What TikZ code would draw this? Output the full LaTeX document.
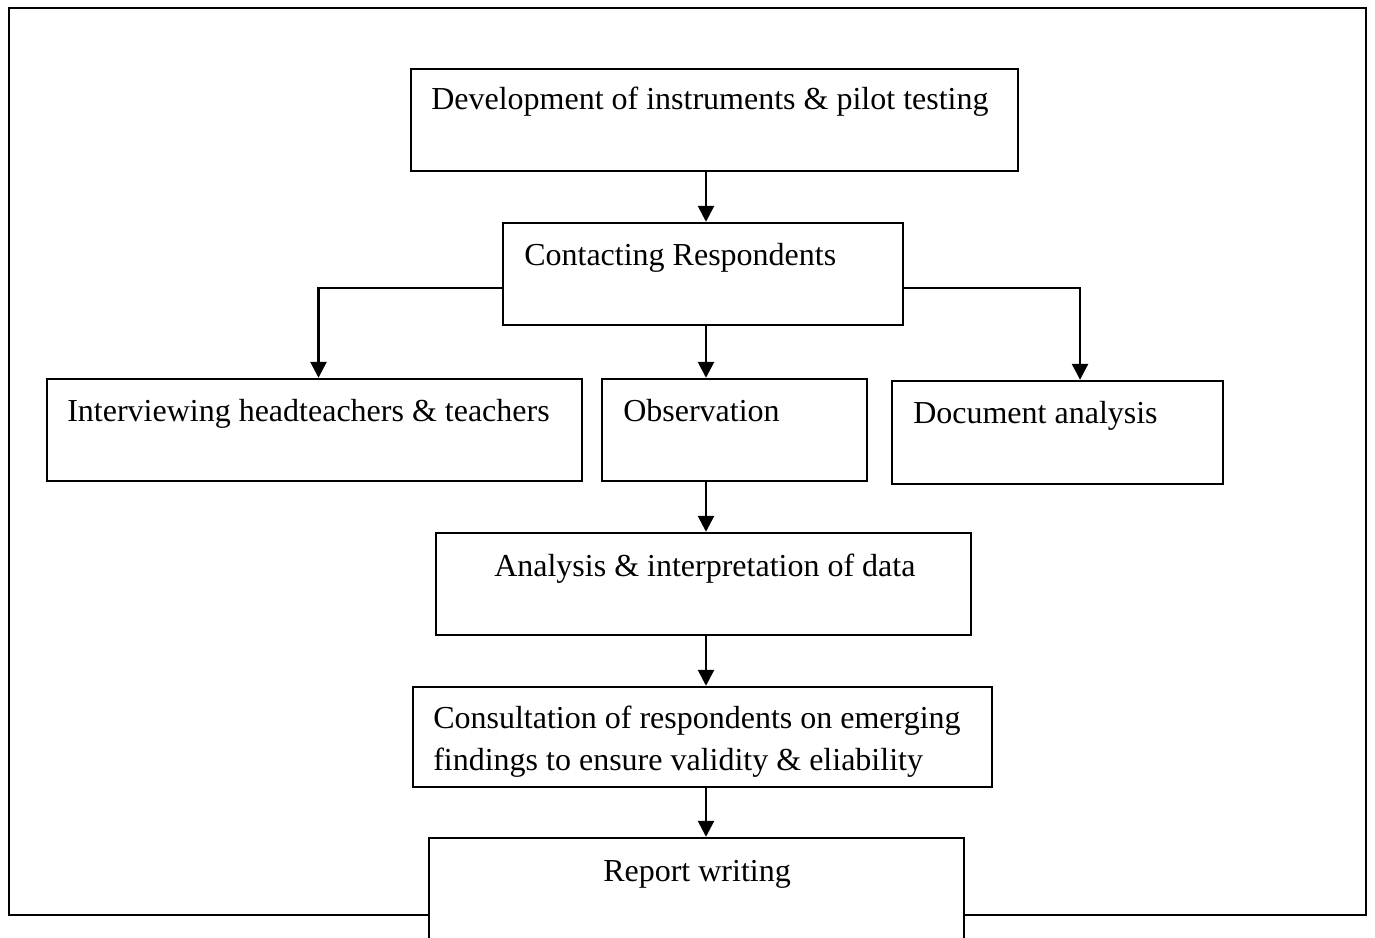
\documentclass[tikz,border=0pt]{standalone}
\usepackage{fontspec}
\setmainfont{Liberation Serif}
\usetikzlibrary{fit,arrows.meta}

\tikzset{
  stagebox/.style={draw, line width=1.8pt, inner sep=0pt, fill=white},
  flow/.style={line width=2pt, -{Triangle[width=12pt,length=12pt]}},
}

\begin{document}
\begin{tikzpicture}[x=0.75pt,y=0.75pt,yscale=-1,xscale=1,font=\fontsize{24}{31.5}\selectfont]
\useasboundingbox (0,0) rectangle (1375,938);
\clip (0,0) rectangle (1375,938);
\draw[line width=1.8pt] (9,8) rectangle (1366,915);
\coordinate (axis) at (706,0);
% boxes
\node[stagebox, fit={(411,69) (1018,171)}] (dev) {};
\node[stagebox, fit={(503,223) (903,325)}] (cont) {};
\node[stagebox, fit={(47,379) (582,481)}] (intv) {};
\node[stagebox, fit={(602,379) (867,481)}] (obs) {};
\node[stagebox, fit={(892,381) (1223,484)}] (doc) {};
\node[stagebox, fit={(436,533) (971,635)}] (ana) {};
\node[stagebox, fit={(413,687) (992,787)}] (cons) {};
\node[stagebox, fit={(429,838) (964,960)}] (rep) {};
% texts
\draw (431,110) node [anchor=base west][inner sep=0pt] (devtxt) {Development of instruments \& pilot testing};
\draw (524,265) node [anchor=base west][inner sep=0pt] (conttxt) {Contacting Respondents};
\draw (67,421) node [anchor=base west][inner sep=0pt] (intvtxt) {Interviewing headteachers \& teachers};
\draw (623,421) node [anchor=base west][inner sep=0pt] (obstxt) {Observation};
\draw (913,423) node [anchor=base west][inner sep=0pt] (doctxt) {Document analysis};
\draw (494,576) node [anchor=base west][inner sep=0pt] (anatxt) {Analysis \& interpretation of data};
\draw (433,770) node [anchor=base west][inner sep=0pt][align=left] (constxt) {Consultation of respondents on emerging\\findings to ensure validity \& eliability};
\draw (603,881) node [anchor=base west][inner sep=0pt] (reptxt) {Report writing};
% arrows
\draw[flow] (dev.south -| axis) -- (cont.north -| axis);
\draw[flow] ([yshift=10.5pt]cont.west) -| ([xshift=3pt]intv.north);
\draw[flow] (cont.south -| axis) -- (obs.north -| axis);
\draw[flow] ([yshift=10.5pt]cont.east) -| ([xshift=16.9pt]doc.north);
\draw[flow] (obs.south -| axis) -- (ana.north -| axis);
\draw[flow] (ana.south -| axis) -- (cons.north -| axis);
\draw[flow] (cons.south -| axis) -- (rep.north -| axis);
\end{tikzpicture}
\end{document}
